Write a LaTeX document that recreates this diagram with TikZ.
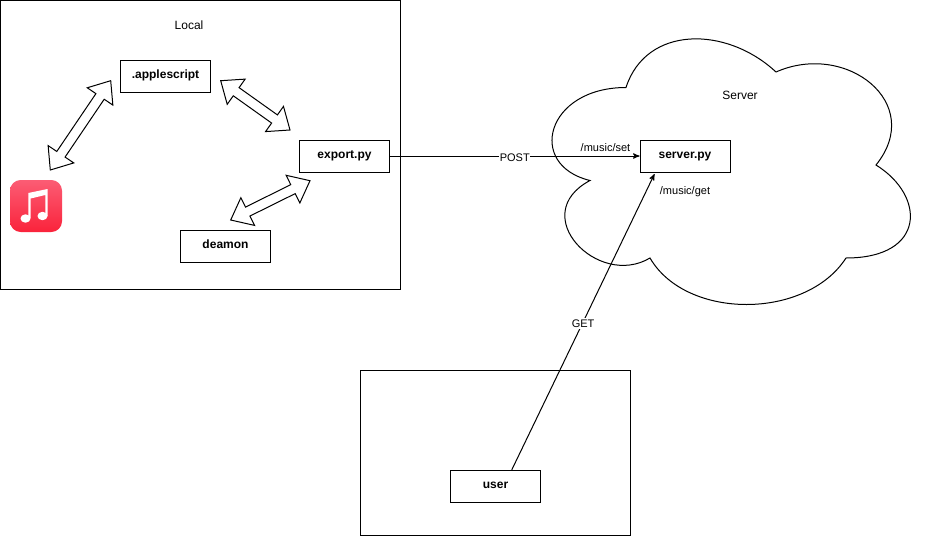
\documentclass[tikz,border=0pt]{standalone}
\usepackage{fontspec}
\setmainfont{Liberation Sans}
\usetikzlibrary{arrows,calc,shadings}
\definecolor{musictop}{HTML}{FB5C74}
\definecolor{musicbottom}{HTML}{FA233B}
\tikzset{every node/.style={font=\fontsize{9pt}{11pt}\selectfont,inner sep=0pt},
         frame/.style={rectangle,draw,line width=0.75pt},
         script/.style={rectangle,draw,line width=0.75pt,minimum width=67.5pt,minimum height=24pt,
                        font=\fontsize{9pt}{11pt}\selectfont\bfseries,text height=7pt,text depth=3pt},
         route label/.style={font=\fontsize{8.25pt}{10pt}\selectfont},
         edge label/.style={rectangle,fill=white,inner xsep=0.5pt,inner ysep=1pt,yshift=-1pt,
                            font=\fontsize{8.25pt}{10pt}\selectfont},
         link/.style={->,>=stealth',line width=0.75pt},
         biarrow/.style={draw,line width=0.75pt,miter limit=10,to path={
             -- ($(\tikztostart)!14.25pt!(\tikztotarget)!11.6pt!90:(\tikztotarget)$)
             -- ($(\tikztostart)!14.25pt!(\tikztotarget)!3.75pt!90:(\tikztotarget)$)
             -- ($(\tikztotarget)!14.25pt!(\tikztostart)!3.75pt!-90:(\tikztostart)$)
             -- ($(\tikztotarget)!14.25pt!(\tikztostart)!11.6pt!-90:(\tikztostart)$)
             -- (\tikztotarget)
             -- ($(\tikztotarget)!14.25pt!(\tikztostart)!11.6pt!90:(\tikztostart)$)
             -- ($(\tikztotarget)!14.25pt!(\tikztostart)!3.75pt!90:(\tikztostart)$)
             -- ($(\tikztostart)!14.25pt!(\tikztotarget)!3.75pt!-90:(\tikztotarget)$)
             -- ($(\tikztostart)!14.25pt!(\tikztotarget)!11.6pt!-90:(\tikztotarget)$)
             -- cycle}},
         music icon/.style={rectangle,rounded corners=8pt,minimum size=39pt,
                            top color=musictop,bottom color=musicbottom}
}
\begin{document}
\begin{tikzpicture}[x=0.75pt,y=-0.75pt]
\useasboundingbox (0,0) rectangle (926,536);

% outer frames and cloud
\node [frame,minimum width=300pt,minimum height=217.1pt] (local) at (200.5,145.25) {};
\node [frame,minimum width=202.5pt,minimum height=123.75pt] (client) at (495.5,453) {};
\draw [line width=0.75pt] (626,87.5)
    .. controls (546,87.5) and (526,165) .. (590,180.5)
    .. controls (526,214.6) and (598,289) .. (650,258)
    .. controls (686,320) and (806,320) .. (846,258)
    .. controls (926,258) and (926,196) .. (876,165)
    .. controls (926,103) and (846,41) .. (776,72)
    .. controls (726,25.5) and (646,25.5) .. (626,87.5) -- cycle;

\node (local label) at (189,25) {Local};
\node (server label) at (740,95) {Server};
\node [route label] (set label) at (605.5,148) {/music/set};
\node [route label] (get label) at (685,192) {/music/get};

% scripts
\node [script] (applescript) at (165.5,76) {.applescript};
\node [script] (export) at (344.5,156) {export.py};
\node [script] (deamon) at (225.5,246) {deamon};
\node [script] (server) at (685,156) {server.py};
\node [script] (user) at (495.5,486) {user};

% music icon
\node [music icon] (music) at (36,206) {};
\fill [white] (28.3,218) -- (28.3,193) -- (47.5,189) -- (47.5,216) -- (45.3,216)
    -- (45.3,195) -- (30.6,198.5) -- (30.6,218) -- cycle;
\fill [white] (25.5,218.5) ellipse (5 and 4.2);
\fill [white] (42.5,216) ellipse (5 and 4.2);

% block arrows
\coordinate (music end) at (50.3,170);
\coordinate (apple end) at (110.7,80.7);
\coordinate (apple out) at (220.7,80.7);
\coordinate (export in) at (290,130);
\coordinate (export low) at (310,180.7);
\coordinate (deamon end) at (230.7,220);
\path [biarrow] (music end) to (apple end);
\path [biarrow] (apple out) to (export in);
\path [biarrow] (deamon end) to (export low);

% requests
\coordinate (user top) at (511.7,470);
\coordinate (server low) at (654.5,174);
\draw [link] (export) -- node [edge label] (post) {POST} (server);
\draw [link] (user top) -- node [edge label] (get) {GET} (server low);
\end{tikzpicture}
\end{document}
